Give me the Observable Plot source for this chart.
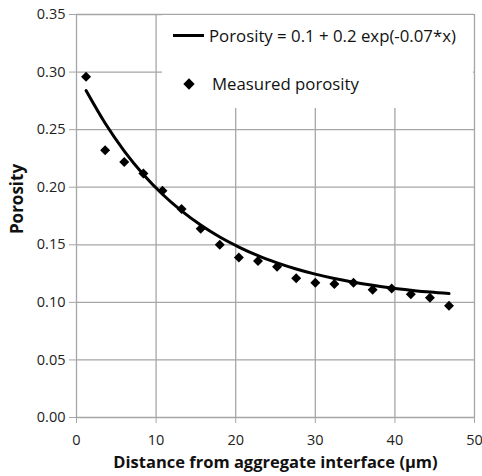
<!DOCTYPE html>
<html>
<head>
<meta charset="utf-8">
<script src="https://cdn.jsdelivr.net/npm/d3@7"></script>
<script src="https://cdn.jsdelivr.net/npm/@observablehq/plot@0.6"></script>
<style>
  html, body { margin: 0; padding: 0; background: #fff; }
  #wrap { position: relative; width: 482px; height: 476px; font-family: "Open Sans", sans-serif; }
  #legend { position: absolute; left: 162px; top: 15px; width: 311px; height: 93px; background: #fff; }
  .lg-row { position: absolute; left: 0; display: flex; align-items: center; font-size: 16.8px; color: #111; white-space: nowrap; }
  .lg-line { width: 31px; height: 3px; background: #000; margin-left: 11px; margin-right: 5px; }
  .lg-dia { width: 8px; height: 8px; background: #000; transform: rotate(45deg); margin-left: 23px; margin-right: 19px; }
</style>
</head>
<body>
<div id="wrap"><div id="legend">
  <div class="lg-row" style="top:9px"><div class="lg-line"></div><span>Porosity = 0.1 + 0.2 exp(-0.07*x)</span></div>
  <div class="lg-row" style="top:57px"><div class="lg-dia"></div><span>Measured porosity</span></div>
</div></div>
<script>
const distance = [1.2, 3.6, 6.0, 8.4, 10.8, 13.2, 15.6, 18.0, 20.4, 22.8, 25.2, 27.6, 30.0, 32.4, 34.8, 37.2, 39.6, 42.0, 44.4, 46.8];
const porosity = [0.296, 0.232, 0.222, 0.212, 0.197, 0.181, 0.164, 0.150, 0.139, 0.136, 0.131, 0.121, 0.117, 0.116, 0.117, 0.111, 0.112, 0.107, 0.104, 0.097];
// Fitted curve Porosity = 0.1 + 0.2 exp(-0.07*x), sampled
const fitX = [1.2, 3.6, 6.0, 8.4, 10.8, 13.2, 15.6, 18.0, 20.4, 22.8, 25.2, 27.6, 30.0, 32.4, 34.8, 37.2, 39.6, 42.0, 44.4, 46.8];
const fitY = [0.2839, 0.2555, 0.2314, 0.2111, 0.1939, 0.1794, 0.1671, 0.1567, 0.1480, 0.1405, 0.1343, 0.1290, 0.1245, 0.1207, 0.1175, 0.1148, 0.1125, 0.1106, 0.1089, 0.1076];
const xTicks = [0, 10, 20, 30, 40, 50];
const yTicks = [0, 0.05, 0.10, 0.15, 0.20, 0.25, 0.30, 0.35];
const xTitle = "Distance from aggregate interface (μm)";
const yTitle = "Porosity";

const measured = distance.map((d, i) => ({x: d, y: porosity[i]}));
const fit = fitX.map((d, i) => ({x: d, y: fitY[i]}));
const grid = "#a6a6a6";

const chart = Plot.plot({
  width: 482,
  height: 476,
  marginLeft: 76,
  marginRight: 8,
  marginTop: 14,
  marginBottom: 59,
  style: {fontFamily: "Open Sans, sans-serif", background: "#fff", overflow: "visible"},
  x: {domain: [0, 50]},
  y: {domain: [0, 0.35]},
  marks: [
    Plot.gridX(xTicks.filter(d => d > 0), {stroke: grid, strokeOpacity: 1, strokeWidth: 1.3}),
    Plot.gridY(yTicks.filter(d => d > 0), {stroke: grid, strokeOpacity: 1, strokeWidth: 1.3}),
    Plot.ruleX([0], {stroke: grid, strokeWidth: 1.3}),
    Plot.ruleY([0], {stroke: grid, strokeWidth: 1.3}),
    Plot.axisX(xTicks, {tickSize: 6, tickPadding: 11, stroke: grid, fill: "#222", fontSize: 14.5, label: null, tickFormat: d => String(d)}),
    Plot.axisY(yTicks, {tickSize: 7, tickPadding: 4, stroke: grid, fill: "#222", fontSize: 14.5, label: null, tickFormat: d => d.toFixed(2)}),
    Plot.line(fit, {x: "x", y: "y", stroke: "#000", strokeWidth: 3, curve: "monotone-x"}),
    Plot.dot(measured, {x: "x", y: "y", symbol: "diamond2", r: 4.5, fill: "#000", stroke: "none"}),
    Plot.text([xTitle], {frameAnchor: "bottom", textAnchor: "middle", lineAnchor: "middle", dy: 45, fontWeight: "bold", fontSize: 16.5, fill: "#111"}),
    Plot.text([yTitle], {frameAnchor: "left", textAnchor: "middle", lineAnchor: "middle", rotate: -90, dx: -59, dy: -17, fontWeight: "bold", fontSize: 17, fill: "#111"})
  ]
});
document.getElementById("wrap").insertBefore(chart, document.getElementById("legend"));
</script>
</body>
</html>
